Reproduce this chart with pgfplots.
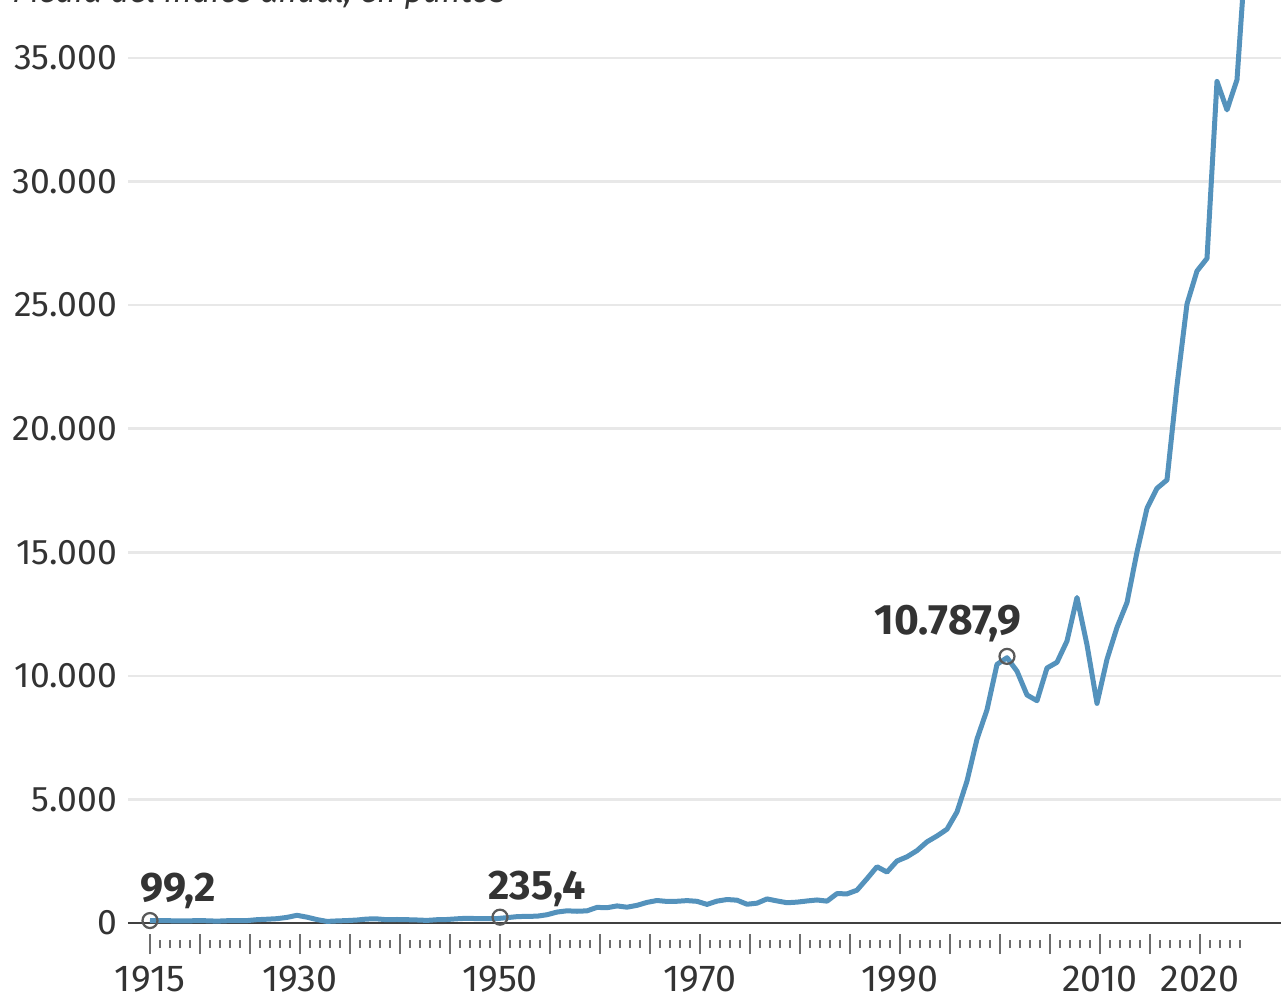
\documentclass[border=0pt]{standalone}
\usepackage{pgfplots}
\pgfplotsset{compat=1.18}
\usepackage{fontspec}
\setmainfont{Fira Sans}
\definecolor{linecol}{RGB}{84,146,188}
\definecolor{txt}{RGB}{51,51,51}
\definecolor{gridc}{RGB}{232,232,232}
\definecolor{tickc}{RGB}{110,110,110}
\begin{document}
\begin{tikzpicture}
\begin{axis}[
  scale only axis, width=461.2pt, height=377.6pt,
  xmin=1912.8, xmax=2028.1, ymin=-850, ymax=37346,
  clip=false,
  axis x line*=bottom, axis y line*=left,
  x axis line style={draw=none}, y axis line style={draw=none},
  xtick={1915,1920,...,2020},
  xticklabels={1915,,,1930,,,,1950,,,,1970,,,,1990,,,,2010,,2020},
  minor xtick={1916,...,2024},
  tick align=center,
  major tick length=8pt, minor tick length=3.2pt,
  xtick style={draw=tickc, line width=0.8pt},
  ytick={0,5000,...,35000},
  scaled y ticks=false,
  ytick style={draw=none},
  ymajorgrids, grid style={draw=gridc, line width=1pt},
  ticklabel style={font=\fontsize{15}{18}\selectfont, text=txt},
  /pgf/number format/assume math mode=true,
  /pgf/number format/1000 sep={.},
  yticklabel style={anchor=east, font=\fontsize{14.2}{17}\selectfont, xshift=3.2pt},
  xticklabel style={yshift=-1.2pt},
]
\coordinate (bl) at (axis cs:1900,-3074);
\coordinate (tr) at (axis cs:2028.1,37346);
\draw[draw=black!75, line width=0.8pt] (axis cs:1912.8,0) -- (axis cs:2028.1,0);
\addplot[draw=linecol, line width=2pt, line join=round] coordinates {
(1915.0,99.2) (1916.7,95) (1917.7,85) (1918.7,82) (1919.7,99) (1920.7,90)
(1921.7,75) (1922.7,92) (1923.7,95) (1924.7,98) (1925.7,134) (1926.7,153)
(1927.7,175) (1928.7,227) (1929.7,311) (1930.7,236) (1931.7,138) (1932.7,64)
(1933.7,84) (1934.7,98) (1935.7,120) (1936.7,161) (1937.7,166) (1938.7,132)
(1939.7,142) (1940.7,134) (1941.7,122) (1942.7,105) (1943.7,133) (1944.7,142)
(1945.7,170) (1946.7,192) (1947.7,177) (1948.7,179) (1949.7,179) (1950.7,216)
(1951.7,257) (1952.7,270) (1953.7,275) (1954.7,334) (1955.7,442) (1956.7,493)
(1957.7,475) (1958.7,492) (1959.7,632) (1960.7,618) (1961.7,691) (1962.7,640)
(1963.7,714) (1964.7,834) (1965.7,910) (1966.7,873) (1967.7,879) (1968.7,906)
(1969.7,877) (1970.7,753) (1971.7,885) (1972.7,950) (1973.7,923) (1974.7,759)
(1975.7,802) (1976.7,974) (1977.7,894) (1978.7,820) (1979.7,844) (1980.7,891)
(1981.7,932) (1982.7,884) (1983.7,1190) (1984.7,1178) (1985.7,1328) (1986.7,1792)
(1987.7,2276) (1988.7,2061) (1989.7,2509) (1990.7,2679) (1991.7,2929) (1992.7,3284)
(1993.7,3522) (1994.7,3794) (1995.7,4494) (1996.7,5743) (1997.7,7441) (1998.7,8626)
(1999.7,10465) (2000.7,10735) (2001.7,10189) (2002.7,9226) (2003.7,8994) (2004.7,10317)
(2005.7,10548) (2006.7,11409) (2007.7,13170) (2008.7,11253) (2009.7,8885) (2010.7,10669)
(2011.7,11958) (2012.7,12966) (2013.7,15010) (2014.7,16778) (2015.7,17587) (2016.7,17927)
(2017.7,21750) (2018.7,25047) (2019.7,26380) (2020.7,26890) (2021.7,34050) (2022.7,32900)
(2023.7,34120) (2024.7,40000)
};
\addplot[only marks, mark=o, mark size=3pt, mark options={draw=black!65, fill=white, fill opacity=0.5, line width=0.9pt}] coordinates {(1915,99.2) (1950,235.4) (2000.7,10787.9)};
\node[anchor=base west, inner sep=0, font=\bfseries\fontsize{16.5}{18}\selectfont, text=txt] at (axis cs:1914.0,850) {99,2};
\node[anchor=base west, inner sep=0, font=\bfseries\fontsize{16.5}{18}\selectfont, text=txt] at (axis cs:1948.8,971) {235,4};
\node[anchor=base east, inner sep=0, font=\bfseries\fontsize{17}{18}\selectfont, text=txt] at (axis cs:2002.2,11690) {10.787,9};
\node[anchor=base west, inner sep=0, font=\itshape\fontsize{13}{15}\selectfont, text=txt] at (axis cs:1901.3,37240) {Media del índice anual, en puntos};
\end{axis}
\pgfresetboundingbox
\useasboundingbox (bl) rectangle (tr);
\end{tikzpicture}
\end{document}
